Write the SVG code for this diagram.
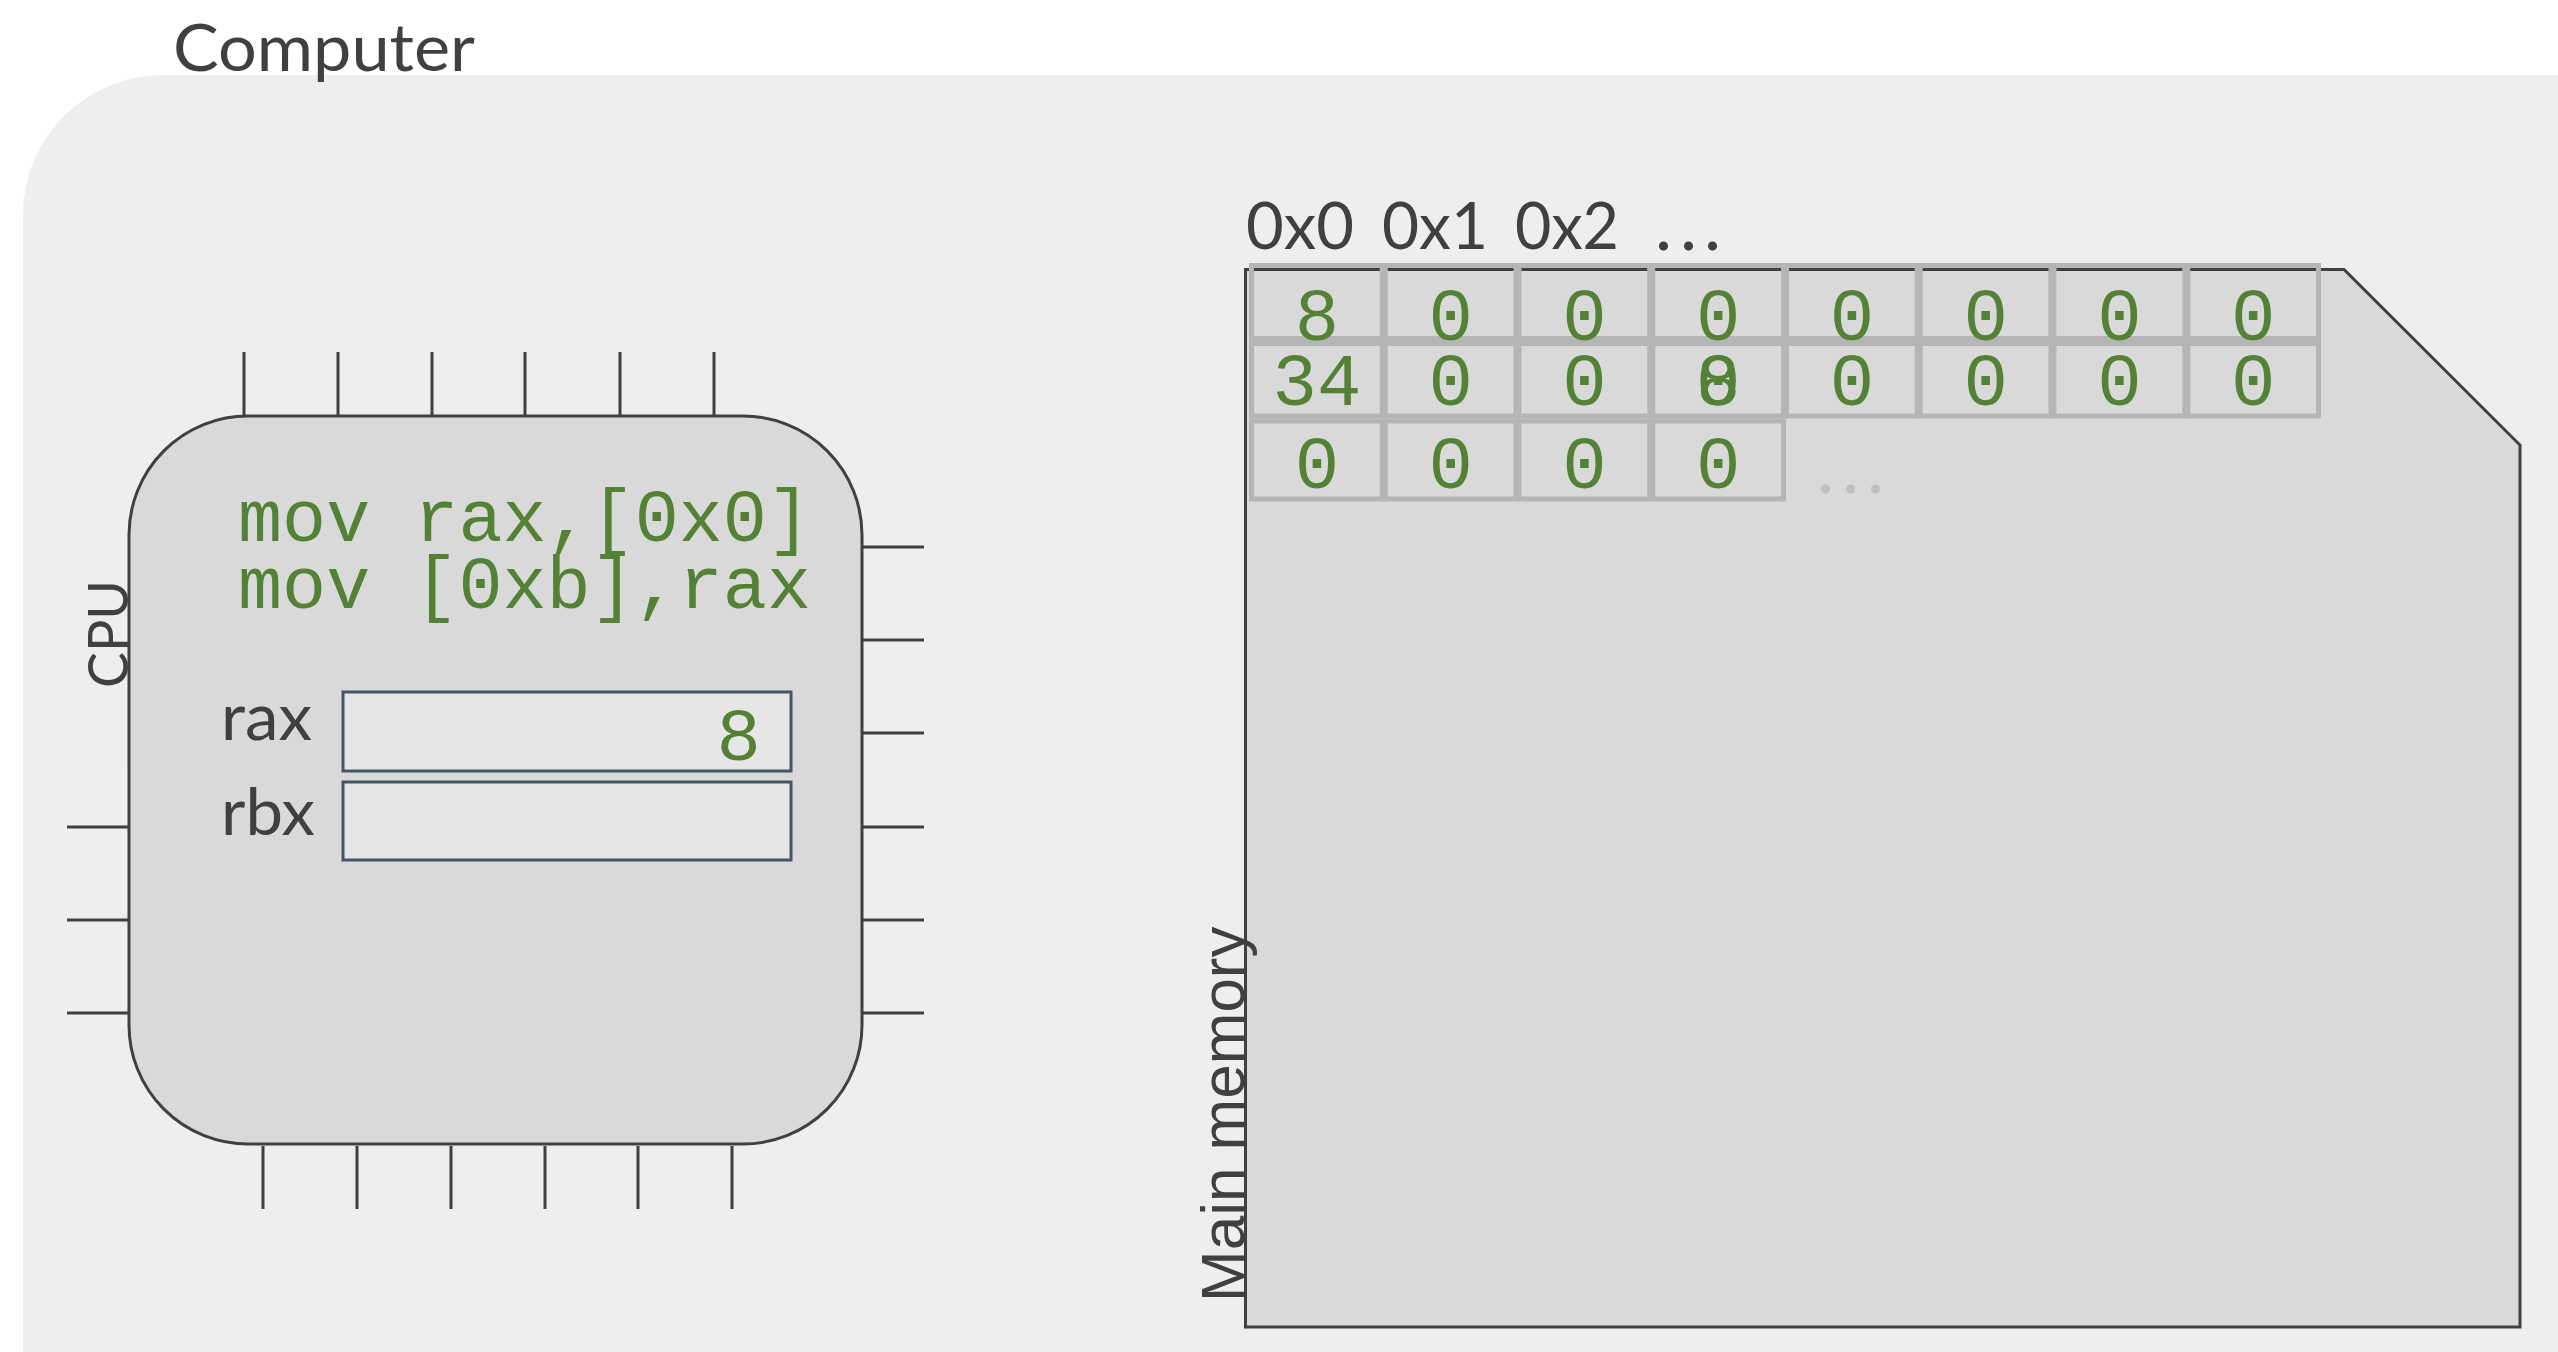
<svg xmlns="http://www.w3.org/2000/svg" width="2558" height="1352" viewBox="0 0 2558 1352">
  <style>
    .lbl { font-family: Lato, "Open Sans", "Liberation Sans", sans-serif; fill: #404040; }
    .code { font-family: "Liberation Mono", "Courier New", monospace; fill: #538135; }
    .pin { stroke: #404040; stroke-width: 3; fill: none; }
    .body { fill: #d9d9d9; stroke: #404040; stroke-width: 3; }
    .reg { fill: #e7e6e6; stroke: #44546a; stroke-width: 3; }
    .cell { fill: none; stroke: #b5b5b5; stroke-width: 5; }
    .val { font-family: "Liberation Mono", "Courier New", monospace; font-size: 74px; fill: #538135; text-anchor: middle; }
  </style>
  <rect x="0" y="0" width="2558" height="1352" fill="#ffffff"/>

  <g id="computer">
    <path d="M23 1352 V215 A140 140 0 0 1 163 75 H2558 V1352 Z" fill="#eeeeee"/>
    <text class="lbl" x="173" y="71" font-size="65" textLength="302" lengthAdjust="spacingAndGlyphs">Computer</text>
  </g>

  <g id="cpu">
    <g class="pin">
      <path d="M244 352 V416 M338 352 V416 M432 352 V416 M525 352 V416 M620 352 V416 M714 352 V416"/>
      <path d="M263 1146 V1209 M357 1146 V1209 M451 1146 V1209 M545 1146 V1209 M638 1146 V1209 M732 1146 V1209"/>
      <path d="M862 547 H924 M862 640 H924 M862 733 H924 M862 827 H924 M862 920 H924 M862 1013 H924"/>
      <path d="M67 827 H129 M67 920 H129 M67 1013 H129"/>
    </g>
    <rect class="body" x="129" y="416" width="733" height="728" rx="119" ry="119"/>
    <text class="lbl" transform="translate(128,688) rotate(-90)" font-size="56" textLength="108" lengthAdjust="spacingAndGlyphs">CPU</text>
    <text class="code" x="238" y="541" font-size="73.5" textLength="573" lengthAdjust="spacingAndGlyphs">mov rax,[0x0]</text>
    <text class="code" x="238" y="608" font-size="73.5" textLength="573" lengthAdjust="spacingAndGlyphs">mov [0xb],rax</text>
  </g>

  <g id="reg-rax">
    <text class="lbl" x="221" y="740" font-size="65" textLength="91" lengthAdjust="spacingAndGlyphs">rax</text>
    <rect class="reg" x="343" y="692" width="448" height="79"/>
    <text class="code" x="761" y="760" font-size="74" text-anchor="end">8</text>
  </g>

  <g id="reg-rbx">
    <text class="lbl" x="221" y="835" font-size="65" textLength="94" lengthAdjust="spacingAndGlyphs">rbx</text>
    <rect class="reg" x="343" y="782" width="448" height="78"/>
  </g>

  <g id="memory">
    <polygon class="body" points="1245.5,269.5 2344,269.5 2520,445 2520,1327 1245.5,1327"/>
    <text transform="translate(1244,1302) rotate(-90)" font-family="'Liberation Sans', Arial, sans-serif" font-size="62" fill="#404040">Main memory</text>
    <g id="addresses">
      <text class="lbl" x="1246" y="249" font-size="65" textLength="108" lengthAdjust="spacingAndGlyphs">0x0</text>
      <text class="lbl" x="1382" y="249" font-size="65" textLength="106" lengthAdjust="spacingAndGlyphs">0x1</text>
      <text class="lbl" x="1515" y="249" font-size="65" textLength="104" lengthAdjust="spacingAndGlyphs">0x2</text>
      <text class="lbl" x="1655 1680 1704" y="250" font-size="72">...</text>
    </g>
  </g>

  <g id="cells">
    <g id="row0">
      <rect class="cell" x="1251.5" y="265.5" width="130.75" height="73"/>
      <rect class="cell" x="1385.25" y="265.5" width="130.75" height="73"/>
      <rect class="cell" x="1519" y="265.5" width="130.75" height="73"/>
      <rect class="cell" x="1652.75" y="265.5" width="130.75" height="73"/>
      <rect class="cell" x="1786.5" y="265.5" width="130.75" height="73"/>
      <rect class="cell" x="1920.25" y="265.5" width="130.75" height="73"/>
      <rect class="cell" x="2054" y="265.5" width="130.75" height="73"/>
      <rect class="cell" x="2187.75" y="265.5" width="130.75" height="73"/>
      <text class="val" x="1317" y="340">8</text>
      <text class="val" x="1450.75" y="340">0</text>
      <text class="val" x="1584.5" y="340">0</text>
      <text class="val" x="1718.25" y="340">0</text>
      <text class="val" x="1852" y="340">0</text>
      <text class="val" x="1985.75" y="340">0</text>
      <text class="val" x="2119.5" y="340">0</text>
      <text class="val" x="2253.25" y="340">0</text>
    </g>
    <g id="row1">
      <rect class="cell" x="1251.5" y="343.5" width="130.75" height="72.5"/>
      <rect class="cell" x="1385.25" y="343.5" width="130.75" height="72.5"/>
      <rect class="cell" x="1519" y="343.5" width="130.75" height="72.5"/>
      <rect class="cell" x="1652.75" y="343.5" width="130.75" height="72.5"/>
      <rect class="cell" x="1786.5" y="343.5" width="130.75" height="72.5"/>
      <rect class="cell" x="1920.25" y="343.5" width="130.75" height="72.5"/>
      <rect class="cell" x="2054" y="343.5" width="130.75" height="72.5"/>
      <rect class="cell" x="2187.75" y="343.5" width="130.75" height="72.5"/>
      <text class="val" x="1317" y="405">34</text>
      <text class="val" x="1450.75" y="405">0</text>
      <text class="val" x="1584.5" y="405">0</text>
      <text class="val" x="1718.25" y="405">0</text>
      <text class="val" x="1718.25" y="405">8</text>
      <text class="val" x="1852" y="405">0</text>
      <text class="val" x="1985.75" y="405">0</text>
      <text class="val" x="2119.5" y="405">0</text>
      <text class="val" x="2253.25" y="405">0</text>
    </g>
    <g id="row2">
      <rect class="cell" x="1251.5" y="421" width="130.75" height="78"/>
      <rect class="cell" x="1385.25" y="421" width="130.75" height="78"/>
      <rect class="cell" x="1519" y="421" width="130.75" height="78"/>
      <rect class="cell" x="1652.75" y="421" width="130.75" height="78"/>
      <text class="val" x="1317" y="488">0</text>
      <text class="val" x="1450.75" y="488">0</text>
      <text class="val" x="1584.5" y="488">0</text>
      <text class="val" x="1718.25" y="488">0</text>
      <text class="lbl" x="1817 1842 1867" y="493" font-size="72" style="fill:#bfbfbf">...</text>
    </g>
  </g>

  <g id="connectors"/>
</svg>
